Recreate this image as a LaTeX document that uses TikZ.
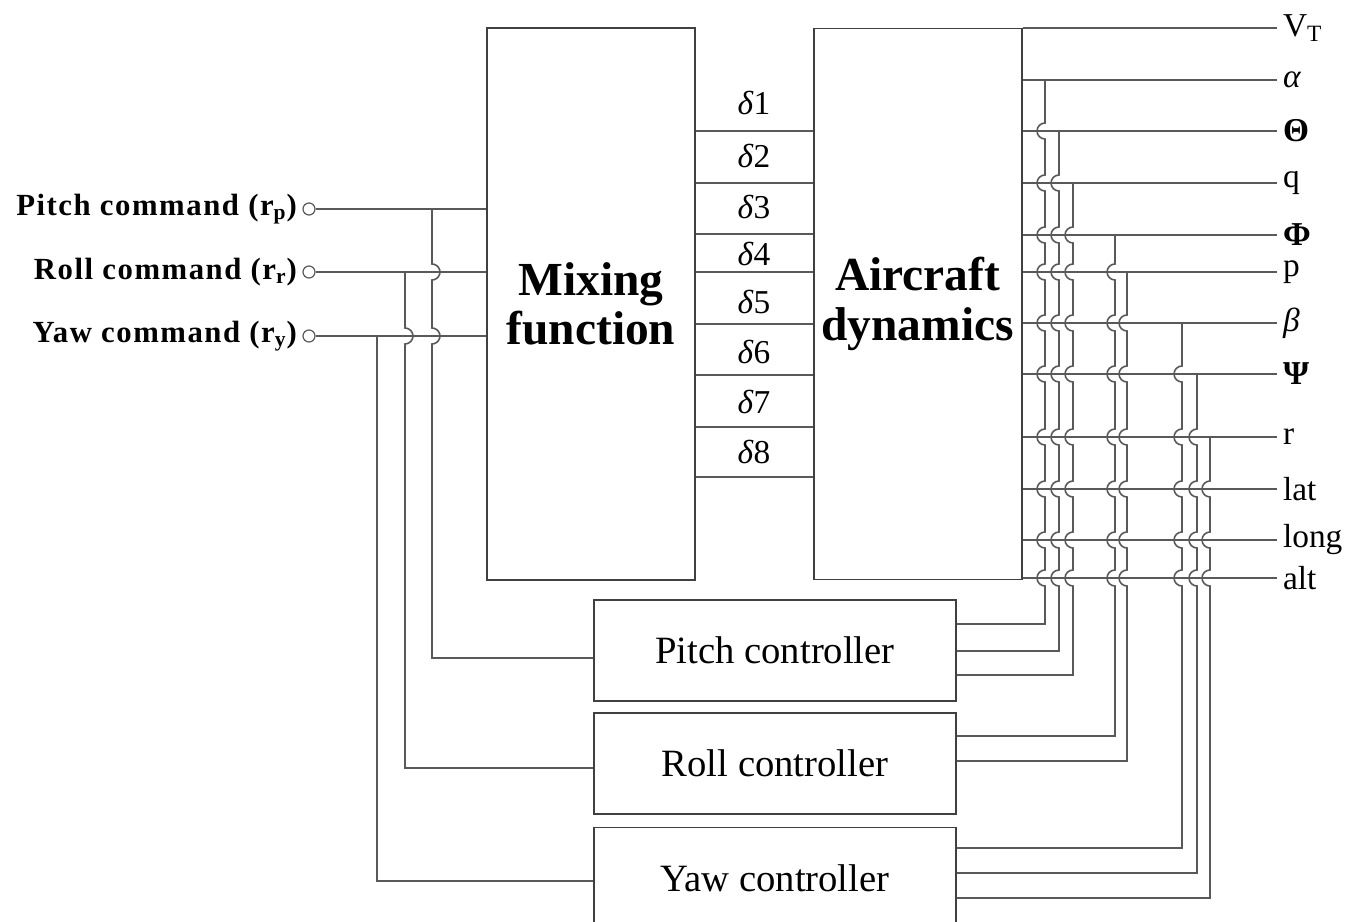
\documentclass[tikz,border=0pt]{standalone}
\usepackage{fontspec}
\setmainfont{Liberation Serif}
\usetikzlibrary{positioning}
\tikzstyle{block} = [rectangle, draw=black!75, line width=1pt, inner sep=0pt, align=center]
\tikzstyle{ctrl} = [block, minimum width=7.24cm, minimum height=2.02cm, font=\fontsize{22}{26}\selectfont]
\tikzstyle{wire} = [draw=black!65, line width=0.9pt]
\tikzstyle{port} = [circle, draw=black!65, line width=0.7pt, minimum size=0.24cm, inner sep=0pt]
\tikzstyle{cmd} = [anchor=east, inner sep=3pt, font=\fontsize{17.5}{20}\selectfont\bfseries\addfontfeature{LetterSpace=5}]
\tikzstyle{sig} = [anchor=west, inner sep=3pt, font=\fontsize{19}{22}\selectfont]

% rows of the aircraft outputs (px from the top)
\def\outys{28,80,131,183,235,272,323,374,437,489,540,578}

% feedback wire: x, tap row, controller row, controller
\newcommand{\feedback}[4]{%
  \xdef\hoppath{(#1,-#2)}%
  \foreach \ly in \outys {%
    \ifnum\ly>#2\relax
      \xdef\hoppath{\hoppath -- (#1,-\ly+8) arc[start angle=90, end angle=270, radius=8]}%
    \fi}%
  \draw[wire] \hoppath -- (#1,-#3) -- (#4.east |- 0,-#3);%
}

\begin{document}
\begin{tikzpicture}[x=0.02cm, y=0.02cm]
  \useasboundingbox (0,0) rectangle (1350,-922);

  \node[block, minimum width=4.16cm, minimum height=11.04cm, font=\fontsize{27}{28}\selectfont\bfseries] (mix) at (591,-304) {Mixing\\function};
  \node[block, minimum width=4.16cm, minimum height=11.02cm, font=\fontsize{27}{28}\selectfont\bfseries, right=2.34cm of mix] (air) {Aircraft\\dynamics};

  \node[ctrl] (pitch) at (775,-650.5) {Pitch controller};
  \node[ctrl, below=0.2cm of pitch] (roll) {Roll controller};
  \node[ctrl, below=0.24cm of roll] (yaw) {Yaw controller};

  % commands
  \node[port] (pp) at (309,-209) {};
  \node[port] (pr) at (309,-272) {};
  \node[port] (py) at (309,-336) {};
  \node[cmd, left=0pt of pp] (lp) {Pitch command (r\textsubscript{p})};
  \node[cmd, left=0pt of pr] (lr) {Roll command (r\textsubscript{r})};
  \node[cmd, left=0pt of py] (ly) {Yaw command (r\textsubscript{y})};
  \draw[wire] (pp) -- (pp -| mix.west);
  \draw[wire] (pr) -- (pr -| mix.west);
  \draw[wire] (py) -- (py -| mix.west);

  \coordinate (tp) at (432,-209);
  \coordinate (tr) at (405,-272);
  \coordinate (ty) at (377,-336);
  \draw[wire] (tp) -- (432,-264) arc[start angle=90, end angle=-90, radius=8]
    -- (432,-328) arc[start angle=90, end angle=-90, radius=8]
    -- (432,-658) -- (pitch.west |- 0,-658);
  \draw[wire] (tr) -- (405,-328) arc[start angle=90, end angle=-90, radius=8]
    -- (405,-768) -- (roll.west |- 0,-768);
  \draw[wire] (ty) -- (377,-881) -- (yaw.west |- 0,-881);

  % deflections
  \foreach \i/\y/\ty in {1/131/103, 2/183/156, 3/234/207, 4/272/254, 5/324/302, 6/375/352, 7/427/402, 8/477/452} {
    \draw[wire] (mix.east |- 0,-\y) -- (air.west |- 0,-\y);
    \node[font=\fontsize{19}{22}\selectfont] (d\i) at (754,-\ty) {\textit{δ}\i};
  }

  % outputs
  \foreach \y/\n/\t in {28/vt/V\textsubscript{T}, 80/al/\textit{α}, 131/th/\textbf{Θ}, 183/q/q,
      235/ph/\textbf{Φ}, 272/p/p, 323/be/\textit{β}, 374/ps/\textbf{Ψ}, 437/r/r,
      489/lat/lat, 540/long/long, 578/alt/alt}
    \draw[wire] (air.east |- 0,-\y) -- (1277,-\y) node[sig] (o-\n) {\t};

  % feedback to the controllers
  \feedback{1045}{80}{624}{pitch}
  \feedback{1059}{131}{651}{pitch}
  \feedback{1073}{183}{675}{pitch}
  \feedback{1115}{235}{736}{roll}
  \feedback{1127}{272}{761}{roll}
  \feedback{1182}{323}{848}{yaw}
  \feedback{1197}{374}{873}{yaw}
  \feedback{1210}{437}{898}{yaw}
\end{tikzpicture}
\end{document}
